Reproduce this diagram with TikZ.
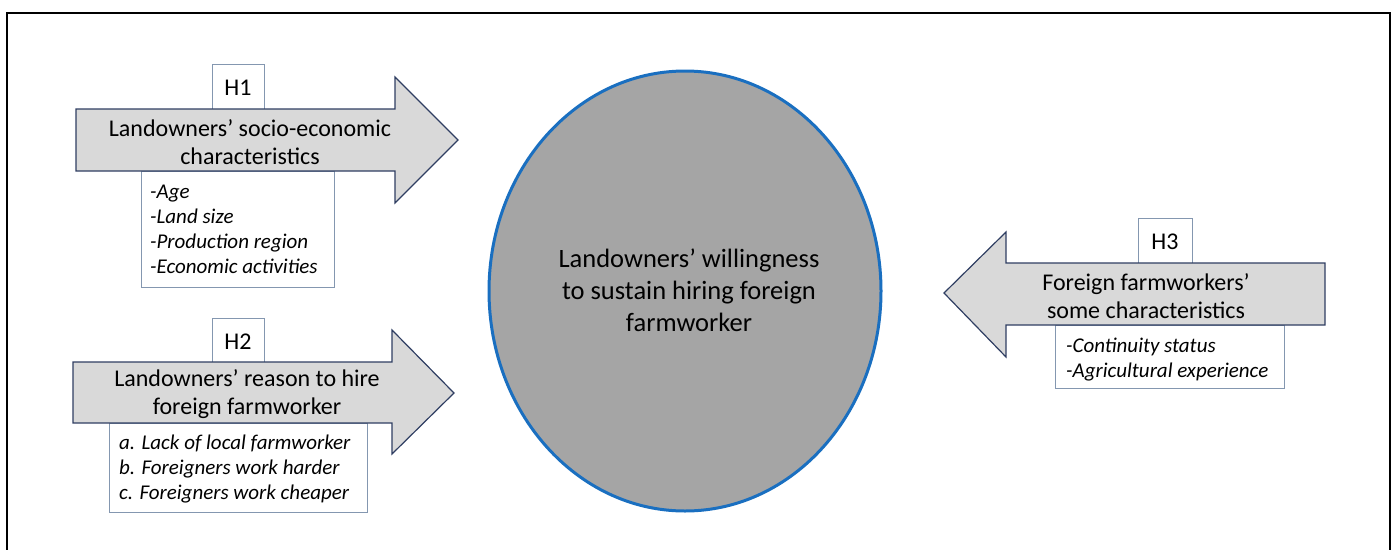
\documentclass[tikz,border=0pt]{standalone}
\usepackage{fontspec}
\setmainfont{Carlito}
\usetikzlibrary{shapes.geometric}
\definecolor{arrowfill}{HTML}{D9D9D9}
\definecolor{arrowline}{HTML}{2F3E62}
\definecolor{boxline}{HTML}{8497B0}
\definecolor{ellfill}{HTML}{A5A5A5}
\definecolor{ellline}{HTML}{1A6FC0}
\tikzset{
  bigarrow/.style={fill=arrowfill,draw=arrowline,line width=1.2pt,line join=miter},
  labelbox/.style={draw=boxline,fill=white,line width=0.8pt},
  arrowtext/.style={align=center,font=\fontsize{24}{27.5}\selectfont,inner sep=0pt},
  htext/.style={font=\fontsize{24}{28}\selectfont,inner sep=0pt},
  itemtext/.style={anchor=base west,font=\itshape\fontsize{21}{25}\selectfont,inner sep=0pt},
}
\begin{document}
\begin{tikzpicture}[x=1pt,y=-1pt]
\useasboundingbox (0,0) rectangle (1394,549);
% outer frame
\draw[black,line width=1.5pt] (7,560) -- (7,13) -- (1390,13) -- (1390,560);

% ellipse
\node[ellipse,draw=ellline,fill=ellfill,line width=3pt,minimum width=392pt,minimum height=440pt,inner sep=0pt] (ell) at (685,291) {};
\node[align=center,font=\fontsize{26.5}{32}\selectfont,inner sep=0pt] (elltext) at (689,290) {Landowners’ willingness\\to sustain hiring foreign\\farmworker};

% H1
\draw[labelbox] (212,64) rectangle (264,109);
\node[htext] (h1) at (238,88) {H1};
\draw[labelbox] (141,171) rectangle (334,287);
\draw[bigarrow] (76,109) -- (395,109) -- (395,77) -- (458,140) -- (395,203) -- (395,171) -- (76,171) -- cycle;
\node[arrowtext] (a1) at (250,142) {Landowners’ socio-economic\\characteristics};
\node[itemtext] (i11) at (150,198) {-Age};
\node[itemtext] (i12) at (150,223) {-Land size};
\node[itemtext] (i13) at (150,248) {-Production region};
\node[itemtext] (i14) at (150,273) {-Economic activities};

% H2
\draw[labelbox] (212,318) rectangle (264,362);
\node[htext] (h2) at (238,342) {H2};
\draw[labelbox] (109,423) rectangle (367,512);
\draw[bigarrow] (73,362) -- (392,362) -- (392,330) -- (454,393) -- (392,454) -- (392,423) -- (73,423) -- cycle;
\node[arrowtext] (a2) at (247,394) {Landowners’ reason to hire\\foreign farmworker};
\node[itemtext] (i21) at (119,449) {a. Lack of local farmworker};
\node[itemtext] (i22) at (119,474) {b. Foreigners work harder};
\node[itemtext] (i23) at (119,499) {c. Foreigners work cheaper};

% H3
\draw[labelbox] (1138,218) rectangle (1192,263);
\node[htext] (h3) at (1165,242) {H3};
\draw[labelbox] (1055,325) rectangle (1284,388);
\draw[bigarrow] (1325,263) -- (1006,263) -- (1006,232) -- (944,293) -- (1006,357) -- (1006,325) -- (1325,325) -- cycle;
\node[arrowtext] (a3) at (1146,296) {Foreign farmworkers’\\some characteristics};
\node[itemtext] (i31) at (1066,352) {-Continuity status};
\node[itemtext] (i32) at (1066,377) {-Agricultural experience};
\end{tikzpicture}
\end{document}
